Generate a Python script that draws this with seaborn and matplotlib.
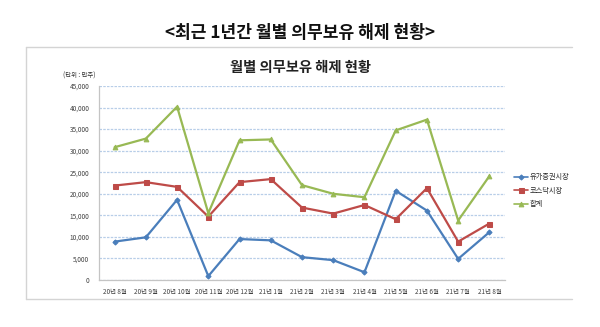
import matplotlib
matplotlib.use("Agg")
import matplotlib.pyplot as plt
from matplotlib.lines import Line2D
from matplotlib.ticker import FuncFormatter, MultipleLocator
import seaborn as sns
import pandas as pd

# 월별 의무보유 해제 물량 (단위: 만주)
months = ["20년 8월", "20년 9월", "20년 10월", "20년 11월", "20년 12월",
          "21년 1월", "21년 2월", "21년 3월", "21년 4월", "21년 5월",
          "21년 6월", "21년 7월", "21년 8월"]
kospi = [8900, 9900, 18600, 900, 9500, 9200, 5300, 4600, 1800, 20700, 16100, 4900, 11100]
kosdaq = [21900, 22700, 21600, 14700, 22700, 23400, 16800, 15400, 17400, 14100, 21300, 8900, 13100]
total = [30800, 32800, 40200, 15500, 32400, 32600, 22000, 20000, 19200, 34700, 37200, 13800, 24100]
series_names = ["유가증권시장", "코스닥시장", "합계"]

sns.set_theme(style="white")
plt.rcParams["font.family"] = ["Noto Sans CJK KR", "DejaVu Sans"]

frames = []
for name, vals in zip(series_names, [kospi, kosdaq, total]):
    frames.append(pd.DataFrame({"월": months, "물량": vals, "구분": name}))
df = pd.concat(frames, ignore_index=True)

palette = {"유가증권시장": "#4A7EBB", "코스닥시장": "#BE4B48", "합계": "#98B954"}
markers = {"유가증권시장": "D", "코스닥시장": "s", "합계": "^"}
msizes = {"유가증권시장": 2.6, "코스닥시장": 3.6, "합계": 3.4}

fig = plt.figure(figsize=(6.0, 3.27), dpi=100)
fig.patch.set_facecolor("white")

# chart frame (top, left and bottom edges)
x0, x1 = 26 / 600, 572 / 600
y0, y1 = 1 - 299 / 327, 1 - 47 / 327
for xs, ys in [((x0, x1), (y1, y1)), ((x0, x0), (y0, y1)), ((x0, x1), (y0, y0))]:
    fig.lines.append(Line2D(xs, ys, transform=fig.transFigure,
                            color="#D4D4D4", linewidth=1.0, zorder=0))

ax = fig.add_axes([99 / 600, 1 - 280 / 327, 406 / 600, 194 / 327])

for name in series_names:
    sub = df[df["구분"] == name]
    sns.lineplot(data=sub, x="월", y="물량", ax=ax, color=palette[name],
                 marker=markers[name], markersize=msizes[name],
                 markeredgecolor=palette[name], linewidth=1.6,
                 label=name, sort=False)

ax.set_xlim(-0.5, len(months) - 0.5)
ax.set_ylim(0, 45000)
ax.yaxis.set_major_locator(MultipleLocator(5000))
ax.yaxis.set_major_formatter(FuncFormatter(lambda v, p: f"{int(v):,}"))
ax.set_xlabel("")
ax.set_ylabel("")
ax.tick_params(axis="both", length=0, labelsize=4.6, colors="#404040")
ax.tick_params(axis="x", pad=6)
ax.tick_params(axis="y", pad=7)

ax.grid(axis="y", color="#B8CEE8", linestyle=(0, (2.0, 1.0)), linewidth=0.9)
ax.set_axisbelow(True)
for side in ["top", "right"]:
    ax.spines[side].set_visible(False)
for side in ["left", "bottom"]:
    ax.spines[side].set_color("#C4C4C4")
    ax.spines[side].set_linewidth(0.9)

leg = ax.legend(loc="center left", bbox_to_anchor=(1.015, 0.46), frameon=False,
                fontsize=5.2, handlelength=2.0, handletextpad=0.2,
                labelspacing=0.75, borderaxespad=0)
for h in leg.legend_handles:
    h.set_linewidth(1.2)

fig.text(0.5, 1 - 33 / 327, "<최근 1년간 월별 의무보유 해제 현황>",
         ha="center", va="center", fontsize=12.3, fontweight="bold", color="#111111")
fig.text(0.5, 1 - 68 / 327, "월별 의무보유 해제 현황",
         ha="center", va="center", fontsize=10.3, fontweight="bold", color="#222222")
fig.text(63 / 600, 1 - 76 / 327, "(단위 : 만주)", ha="left", va="center",
         fontsize=4.6, color="#333333")

fig.savefig("out.png", dpi=100, facecolor="white")
